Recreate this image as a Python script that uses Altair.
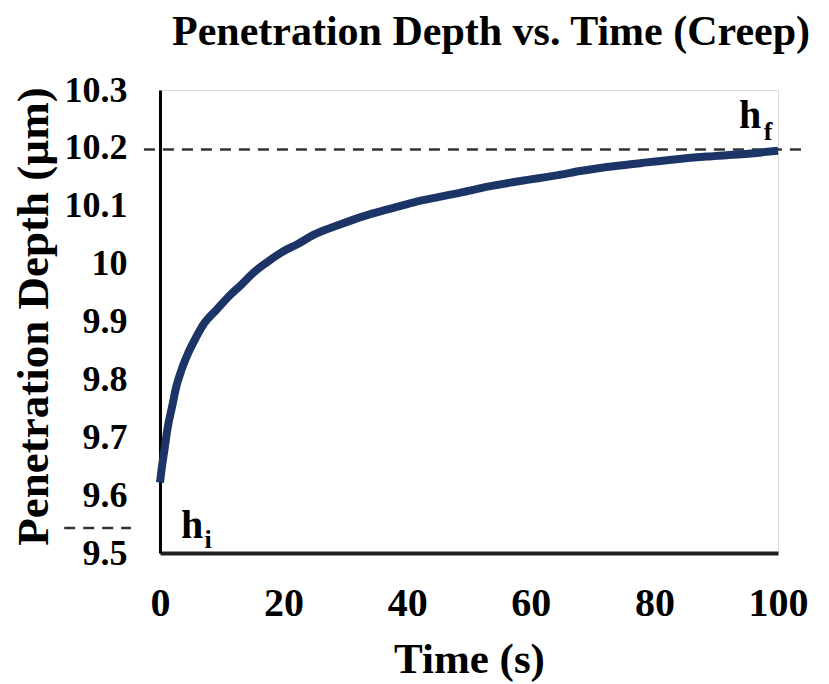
import altair as alt
import pandas as pd

# ---- data ----
time_s = [0, 0.3, 0.7, 1.25, 2.0, 2.6, 3.5, 4.5, 5.8, 7.1, 9.3, 11.0, 13.1, 15.2, 17.4,
          19.6, 22.3, 24.9, 29.0, 33.0, 37.0, 41.1, 45.0, 49.2, 53.0, 57.3, 61.5, 64.4,
          68.0, 72.3, 78.0, 83.2, 88.5, 94.0, 100.0]
depth_um = [9.622, 9.648, 9.677, 9.717, 9.755, 9.786, 9.817, 9.844, 9.872, 9.896, 9.922,
            9.942, 9.963, 9.985, 10.003, 10.019, 10.034, 10.050, 10.067, 10.082, 10.094,
            10.106, 10.115, 10.124, 10.133, 10.141, 10.148, 10.153, 10.160, 10.167,
            10.174, 10.180, 10.185, 10.189, 10.195]

y_ticks = [9.5, 9.6, 9.7, 9.8, 9.9, 10.0, 10.1, 10.2, 10.3]
x_ticks = [0, 20, 40, 60, 80, 100]

hf_line_t = [-2.6, 104.5]
hf_value = 10.197
hi_line_t = [-15.5, -4.7]
hi_value = 9.543

ann_main = ["h", "h"]
ann_main_t = [95.5, 5.2]
ann_main_v = [10.235, 9.526]
ann_sub = ["f", "i"]
ann_sub_t = [98.4, 7.8]
ann_sub_v = [10.213, 9.509]

FONT = "Liberation Serif"

curve = pd.DataFrame({"t": time_s, "d": depth_um})
hf_df = pd.DataFrame({"t": [hf_line_t[0]], "t2": [hf_line_t[1]], "d": [hf_value]})
hi_df = pd.DataFrame({"t": [hi_line_t[0]], "t2": [hi_line_t[1]], "d": [hi_value]})
main_df = pd.DataFrame({"t": ann_main_t, "d": ann_main_v, "s": ann_main})
sub_df = pd.DataFrame({"t": ann_sub_t, "d": ann_sub_v, "s": ann_sub})

xscale = alt.Scale(domain=[0, 100], nice=False, zero=False)
yscale = alt.Scale(domain=[9.5, 10.3], nice=False, zero=False)

x_axis = alt.Axis(values=x_ticks, title="Time (s)", ticks=False, grid=False,
                  labelPadding=30, labelFont=FONT, labelFontWeight="bold",
                  labelFontSize=40, labelColor="black", labelFlush=False,
                  labelOverlap=False,
                  domainColor="#222", domainWidth=4,
                  titleFont=FONT, titleFontWeight="bold", titleFontSize=43,
                  titleColor="black", titleX=309, titleY=119,
                  titleAlign="center", titleBaseline="alphabetic")
y_axis = alt.Axis(values=y_ticks, format="~g", title="Penetration Depth (µm)",
                  ticks=False, grid=False, labelPadding=33, labelFont=FONT,
                  labelFontWeight="bold", labelFontSize=36, labelColor="black",
                  labelBaseline="middle", labelFlush=False, labelOverlap=False,
                  domainColor="black", domainWidth=3,
                  titleFont=FONT, titleFontWeight="bold", titleFontSize=45,
                  titleColor="black", titleX=-113, titleY=226,
                  titleAlign="center", titleBaseline="alphabetic", titleAngle=270)

line = alt.Chart(curve).mark_line(color="#1c3566", strokeWidth=8,
                                  interpolate="monotone", clip=False).encode(
    x=alt.X("t:Q", scale=xscale, axis=x_axis),
    y=alt.Y("d:Q", scale=yscale, axis=y_axis),
)

hf_rule = alt.Chart(hf_df).mark_rule(color="#333", strokeWidth=2.5,
                                     strokeDash=[11, 8], clip=False).encode(
    x=alt.X("t:Q", scale=xscale), x2="t2:Q", y=alt.Y("d:Q", scale=yscale))
hi_rule = alt.Chart(hi_df).mark_rule(color="#333", strokeWidth=2.5,
                                     strokeDash=[11, 8], clip=False).encode(
    x=alt.X("t:Q", scale=xscale), x2="t2:Q", y=alt.Y("d:Q", scale=yscale))

main_txt = alt.Chart(main_df).mark_text(font=FONT, fontWeight="bold", fontSize=40,
                                        color="black", align="center",
                                        baseline="alphabetic", clip=False).encode(
    x=alt.X("t:Q", scale=xscale), y=alt.Y("d:Q", scale=yscale), text="s:N")
sub_txt = alt.Chart(sub_df).mark_text(font=FONT, fontWeight="bold", fontSize=26,
                                      color="black", align="center",
                                      baseline="alphabetic", clip=False).encode(
    x=alt.X("t:Q", scale=xscale), y=alt.Y("d:Q", scale=yscale), text="s:N")

chart = alt.layer(hf_rule, hi_rule, line, main_txt, sub_txt).properties(
    width=618, height=463,
    title=alt.TitleParams("Penetration Depth vs. Time (Creep)", anchor="start",
                          frame="group", font=FONT, fontWeight="bold", fontSize=42,
                          color="black", dx=12, offset=-15, baseline="alphabetic"),
    autosize=alt.AutoSizeParams(type="none"),
    padding={"left": 160, "top": 90, "right": 51, "bottom": 131},
).configure_view(strokeWidth=0).configure(background="white")

chart.save("out.html", embed_options={"renderer": "svg", "actions": False})
